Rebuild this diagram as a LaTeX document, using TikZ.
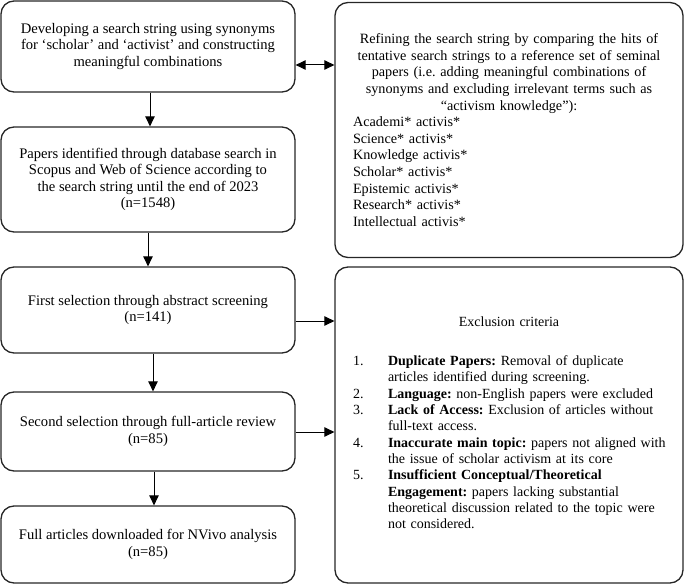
\documentclass[tikz,border=0pt]{standalone}
\usepackage{fontspec}
\setmainfont{Liberation Serif}
\usetikzlibrary{arrows.meta}
\begin{document}
\frenchspacing
\begin{tikzpicture}[x=1pt,y=-1pt,
  box/.style={draw=black!85, line width=1.3pt, rounded corners=13pt, align=center,
    inner sep=0pt, font=\fontsize{14.6}{16.3}\selectfont},
  arr/.style={line width=1pt, -{Triangle[length=10pt,width=9.5pt]}},
  darr/.style={line width=1pt, {Triangle[length=10pt,width=9.5pt]}-{Triangle[length=10pt,width=9.5pt]}}]
\useasboundingbox (0,0) rectangle (685,585);
\node[box, minimum width=294pt, minimum height=91pt] (b1) at (148,46.5)
  {Developing a search string using synonyms\\for `scholar' and `activist' and constructing\\meaningful combinations};
\node[box, minimum width=294pt, minimum height=105pt] (b2) at (148,179.5)
  {Papers identified through database search in\\Scopus and Web of Science according to\\the search string until the end of 2023\\(n=1548)};
\node[box, minimum width=294pt, minimum height=86pt] (b3) at (148,310)
  {First selection through abstract screening\\(n=141)};
\node[box, minimum width=294pt, minimum height=79pt] (b4) at (148,431.5)
  {Second selection through full-article review\\(n=85)};
\node[box, minimum width=294pt, minimum height=77pt] (b5) at (148,544.5)
  {Full articles downloaded for NVivo analysis\\(n=85)};
\node[box, minimum width=348pt, minimum height=255pt, align=left, text width=312pt,
  font=\fontsize{14.2}{16.6}\selectfont] (r1) at (509,130)
  {{\centering Refining the search string by comparing the hits of\\tentative search strings to a reference set of seminal\\papers (i.e. adding meaningful combinations of\\synonyms and excluding irrelevant terms such as\\``activism knowledge''):\par}
   Academi* activis*\\Science* activis*\\Knowledge activis*\\Scholar* activis*\\Epistemic activis*\\Research* activis*\\Intellectual activis*};
\node[box, minimum width=348pt, minimum height=316pt, align=left, text width=312pt,
  font=\fontsize{14}{16.3}\selectfont] (r2) at (509,425)
  {\vspace*{6pt}{\centering Exclusion criteria\par}\vspace{21pt}
   \noindent\begin{tabular}{@{}p{35pt}@{}l@{}}
   1. & \textbf{Duplicate Papers:} Removal of duplicate\\
      & articles identified during screening.\\
   2. & \textbf{Language:} non-English papers were excluded\\
   3. & \textbf{Lack of Access:} Exclusion of articles without\\
      & full-text access.\\
   4. & \textbf{Inaccurate main topic:} papers not aligned with\\
      & the issue of scholar activism at its core\\
   5. & \textbf{Insufficient Conceptual/Theoretical}\\
      & \textbf{Engagement:} papers lacking substantial\\
      & theoretical discussion related to the topic were\\
      & not considered.
   \end{tabular}};
\coordinate (h1) at (0,65);
\coordinate (h3) at (0,321);
\coordinate (h4) at (0,432);
\draw[darr] (b1.east |- h1) -- (r1.west |- h1);
\draw[arr] (b3.east |- h3) -- (r2.west |- h3);
\draw[arr] (b4.east |- h4) -- (r2.west |- h4);
\draw[arr] ([xshift=2pt]b1.south) -- ([xshift=2pt]b2.north);
\draw[arr] (b2.south) -- (b3.north);
\draw[arr] ([xshift=5pt]b3.south) -- ([xshift=5pt]b4.north);
\draw[arr] ([xshift=6pt]b4.south) -- ([xshift=6pt]b5.north);
\end{tikzpicture}
\end{document}
